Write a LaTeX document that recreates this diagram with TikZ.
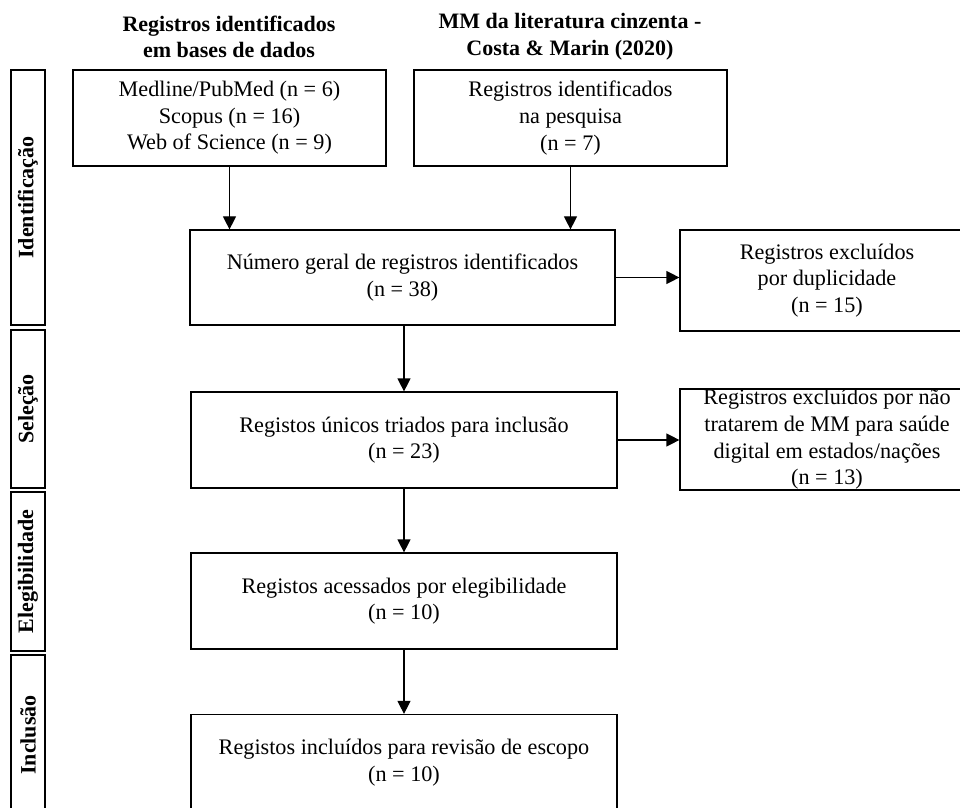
\documentclass[tikz,border=0pt]{standalone}
\usepackage{fontspec}
\setmainfont{Liberation Serif}
\usepackage{tikz}
\usetikzlibrary{arrows.meta}
\tikzset{
    box/.style={
           rectangle,
           draw=black, line width=0.6pt,
           minimum width=213pt,
           minimum height=48pt,
           inner sep=2pt,
           align=center,
           font=\fontsize{11.1}{13.3}\selectfont,
           },
    phase/.style={
           rectangle,
           draw=black, line width=0.9pt,
           rotate=90,
           minimum height=17pt,
           inner sep=0pt,
           font=\fontsize{11}{13.3}\selectfont\bfseries,
           },
    head/.style={
           align=center,
           inner sep=0pt,
           font=\fontsize{11}{13.3}\selectfont\bfseries,
           },
}

\begin{document}
\begin{tikzpicture}[x=0.5pt,y=-0.5pt,->,>={Triangle[length=6.5pt,width=6.5pt]},line width=0.6pt]

 % page frame (picture is cut at right and bottom)
 \useasboundingbox (0,0) rectangle (960,808);
 \clip (0,0) rectangle (960,808);

 % phases on the left
 \node[phase,minimum width=127.5pt] (Ident) at (28,197.5) {Identificação};
 \node[phase,minimum width=79pt]    (Selec) at (28,409)   {Seleção};
 \node[phase,minimum width=79.5pt]  (Eleg)  at (28,571.5) {Elegibilidade};
 \node[phase,minimum width=80pt]    (Incl)  at (28,735)   {Inclusão};

 % column headers
 \node[head] (Head Bases) at (229,37)
  {Registros identificados\\em bases de dados};
 \node[head] (Head Cinza) at (570,37)
  {MM da literatura cinzenta -\\Costa \& Marin (2020)};

 % identification
 \node[box,minimum width=156.5pt] (Bases) at (229.5,118)
  {Medline/PubMed (n = 6)\\Scopus (n = 16)\\Web of Science (n = 9)};
 \node[box,minimum width=156.5pt] (Cinza) at (570.5,118)
  {Registros identificados\\na pesquisa\\(n = 7)};
 \node[box,minimum width=212.5pt,minimum height=47.5pt] (Total) at (402.5,277.5)
  {Número geral de registros identificados\\(n = 38)};
 \node[box,minimum width=147pt,minimum height=50.5pt] (Duplic) at (827,280.5)
  {Registros excluídos\\por duplicidade\\(n = 15)};

 % selection
 \node[box] (Triados) at (404,440)
  {Registos únicos triados para inclusão\\(n = 23)};
 \node[box,minimum width=147pt,minimum height=50.5pt,inner sep=0pt] (Excluidos) at (827,439.5)
  {Registros excluídos por não\\tratarem de MM para saúde\\digital em estados/nações\\(n = 13)};

 % eligibility and inclusion
 \node[box] (Acessados) at (404,601)
  {Registos acessados por elegibilidade\\(n = 10)};
 \node[box] (Incluidos) at (404,762.5)
  {Registos incluídos para revisão de escopo\\(n = 10)};

 % arrows
 \draw (Bases.south) -- (Bases.south |- Total.north);
 \draw (Cinza.south) -- (Cinza.south |- Total.north);
 \draw (Total.east) -- (Duplic.west |- Total.east);
 \draw (Triados.north |- Total.south) -- (Triados.north);
 \draw (Triados.east) -- (Excluidos.west |- Triados.east);
 \draw (Triados.south) -- (Acessados.north);
 \draw (Acessados.south) -- (Incluidos.north);

\end{tikzpicture}
\end{document}
